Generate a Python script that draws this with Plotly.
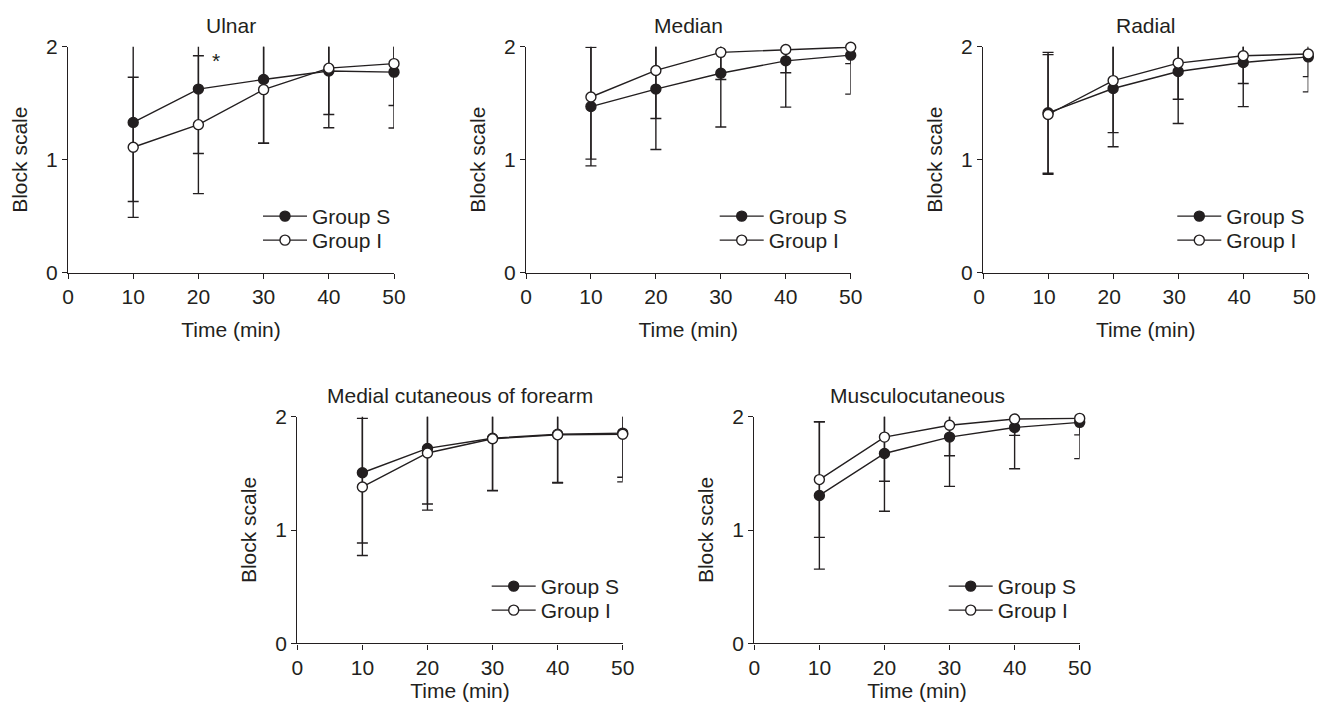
import plotly.graph_objects as go

# ---------------- data ----------------
time_min = [10, 20, 30, 40, 50]

panel_titles = ["Ulnar", "Median", "Radial", "Medial cutaneous of forearm", "Musculocutaneous"]
group_names = ["Group S", "Group I"]

ulnar_s = [1.33, 1.625, 1.71, 1.785, 1.775]
ulnar_s_sd = [0.70, 0.57, 0.565, 0.385, 0.295]
ulnar_i = [1.11, 1.31, 1.62, 1.81, 1.85]
ulnar_i_sd = [0.62, 0.61, 0.475, 0.527, 0.57]

median_s = [1.47, 1.625, 1.765, 1.875, 1.925]
median_s_sd = [0.525, 0.535, 0.475, 0.41, 0.345]
median_i = [1.555, 1.79, 1.95, 1.975, 1.995]
median_i_sd = [0.55, 0.425, 0.24, 0.205, 0.145]

radial_s = [1.415, 1.63, 1.78, 1.86, 1.91]
radial_s_sd = [0.535, 0.515, 0.46, 0.39, 0.31]
radial_i = [1.40, 1.70, 1.855, 1.92, 1.935]
radial_i_sd = [0.53, 0.46, 0.32, 0.245, 0.20]

mcf_s = [1.505, 1.72, 1.81, 1.845, 1.855]
mcf_s_sd = [0.62, 0.49, 0.46, 0.425, 0.39]
mcf_i = [1.38, 1.68, 1.805, 1.84, 1.845]
mcf_i_sd = [0.605, 0.505, 0.46, 0.425, 0.42]

musc_s = [1.305, 1.675, 1.82, 1.905, 1.95]
musc_s_sd = [0.65, 0.51, 0.435, 0.365, 0.32]
musc_i = [1.445, 1.82, 1.925, 1.98, 1.985]
musc_i_sd = [0.51, 0.39, 0.27, 0.145, 0.145]

x_ticks = [0, 10, 20, 30, 40, 50]
y_ticks = [0, 1, 2]

# ---------------- layout ----------------
PAGE_OFFSET = 8                      # default body margin of the html page
W, H = 1324 - PAGE_OFFSET, 710 - 2 * PAGE_OFFSET
INK = "#231f20"
FONT = "Liberation Sans, Arial, Helvetica, sans-serif"
FS = 21

# pixel boxes of the five plot areas in the window (left, right, top, bottom)
boxes = [
    (68, 394, 46.7, 272.7),
    (526, 850.7, 46.7, 272.7),
    (983, 1308.3, 46.7, 272.7),
    (297.3, 622.7, 416.7, 643.3),
    (754.3, 1079.7, 416.7, 643.3),
]
x_title_standoff = [15, 15, 15, 5, 5]
x_label_shift = [0, 0, -4, 0, 0]


def px_x(v):
    return (v - PAGE_OFFSET) / W


def px_y(v):
    return 1 - (v - PAGE_OFFSET) / H


series = [
    (ulnar_s, ulnar_s_sd, ulnar_i, ulnar_i_sd),
    (median_s, median_s_sd, median_i, median_i_sd),
    (radial_s, radial_s_sd, radial_i, radial_i_sd),
    (mcf_s, mcf_s_sd, mcf_i, mcf_i_sd),
    (musc_s, musc_s_sd, musc_i, musc_i_sd),
]

fig = go.Figure()
layout = dict(
    template="none",
    width=W, height=H,
    margin=dict(l=0, r=0, t=0, b=0, autoexpand=False),
    paper_bgcolor="white", plot_bgcolor="white",
    font=dict(family=FONT, size=FS, color=INK),
    showlegend=True,
    annotations=[],
)

legend_count = 0
for k, ((l, r, t, b), (s, s_sd, i, i_sd), title) in enumerate(zip(boxes, series, panel_titles)):
    n = k + 1
    xa = "x" if n == 1 else f"x{n}"
    ya = "y" if n == 1 else f"y{n}"
    for g, (vals, sds, fill) in enumerate([(s, s_sd, INK), (i, i_sd, "white")]):
        legend_count += 1
        leg = "legend" if legend_count == 1 else f"legend{legend_count}"
        fig.add_trace(go.Scatter(
            x=time_min, y=vals, name=group_names[g],
            mode="lines+markers", xaxis=xa, yaxis=ya, legend=leg, cliponaxis=False,
            showlegend=True,
            line=dict(color=INK, width=1.4),
            marker=dict(symbol="circle", size=10, color=fill, line=dict(color=INK, width=1.4)),
            error_y=dict(type="data", array=sds, visible=True, color=INK, thickness=1.4, width=5.5),
        ))
        layout[leg] = dict(
            x=px_x(r - 136), y=px_y(t + 149.3 + 24 * g), xanchor="left", yanchor="top",
            bgcolor="rgba(0,0,0,0)", borderwidth=0, itemwidth=44,
            font=dict(size=FS, family=FONT, color=INK),
        )

    axkey_x = "xaxis" if n == 1 else f"xaxis{n}"
    axkey_y = "yaxis" if n == 1 else f"yaxis{n}"
    layout[axkey_x] = dict(
        domain=[px_x(l), px_x(r)], anchor=ya, range=[0, 50], automargin=False,
        tickmode="array", tickvals=x_ticks, ticks="outside", ticklen=5, tickwidth=1.4,
        tickcolor=INK, showline=True, linecolor=INK, linewidth=1.4,
        showgrid=False, zeroline=False, ticklabelshift=x_label_shift[k],
        ticklabeloverflow="allow",
        title=dict(text="Time (min)", standoff=x_title_standoff[k], font=dict(size=FS)),
        tickfont=dict(size=FS),
    )
    layout[axkey_y] = dict(
        domain=[px_y(b), px_y(t)], anchor=xa, range=[0, 2], automargin=False,
        tickmode="array", tickvals=y_ticks, ticks="outside", ticklen=5, tickwidth=1.4,
        tickcolor=INK, showline=True, linecolor=INK, linewidth=1.4,
        showgrid=False, zeroline=False,
        title=dict(text="Block scale", standoff=12, font=dict(size=FS)),
        tickfont=dict(size=FS),
    )
    layout["annotations"].append(dict(
        text=title, xref="paper", yref="paper", x=px_x((l + r) / 2), y=px_y(t - 21),
        xanchor="center", yanchor="middle", showarrow=False, font=dict(size=FS, color=INK),
    ))

# significance marker on the Ulnar panel
layout["annotations"].append(dict(
    text="*", xref="x", yref="y", x=22.7, y=1.88, showarrow=False,
    font=dict(size=FS, color=INK), xanchor="center", yanchor="middle",
))

fig.update_layout(**layout)
fig.write_html("out.html")
